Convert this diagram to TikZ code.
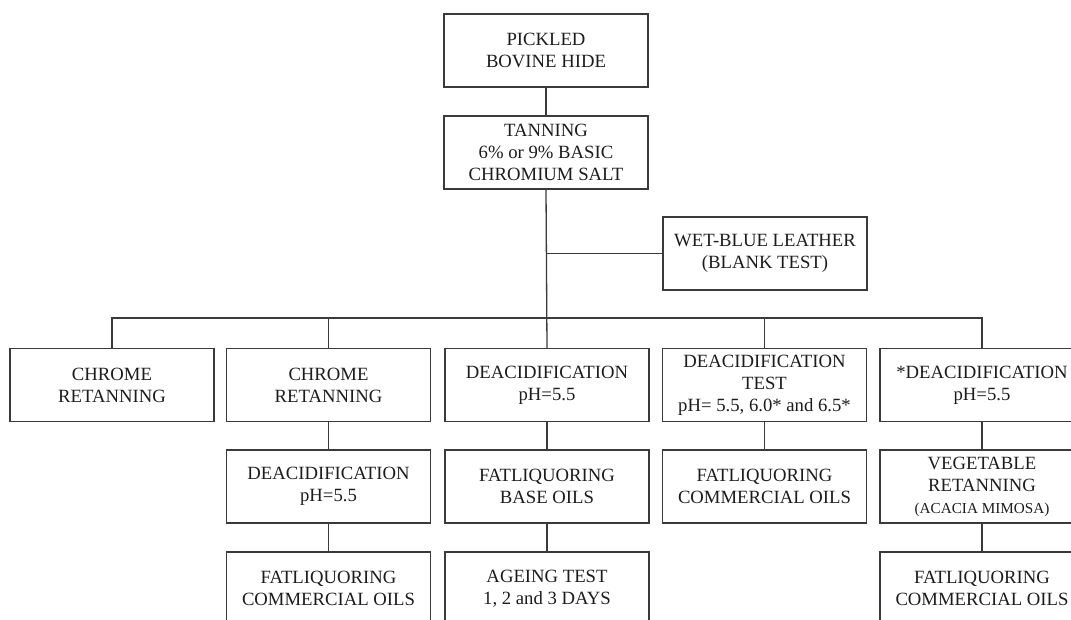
\documentclass[tikz,border=0pt]{standalone}
\usepackage{fontspec}
\setmainfont{Liberation Serif}
\begin{document}
\begin{tikzpicture}[x=1pt,y=-1pt,
  box/.style={draw=linec, line width=1.3pt, minimum width=204pt, minimum height=73pt,
    inner sep=0pt, align=center, text=textc,
    font=\fontsize{18.7}{22}\selectfont},
  conn/.style={draw=linec, line width=1.3pt}]
\definecolor{linec}{HTML}{3A3A3A}
\definecolor{textc}{HTML}{1C1C1C}
\useasboundingbox (0,0) rectangle (1071,620);
\node[box] (hide) at (546,50.5) {PICKLED\\BOVINE HIDE};
\node[box] (tan) at (546,152.5) {TANNING\\6\% or 9\% BASIC\\CHROMIUM SALT};
\node[box] (wb) at (765,253.5) {WET-BLUE LEATHER\\(BLANK TEST)};
\coordinate (bus) at (547,318);
% row 1
\node[box] (a1) at (112,385) {CHROME\\RETANNING};
\node[box] (b1) at (328.5,385) {CHROME\\RETANNING};
\node[box] (c1) at (547,385) {DEACIDIFICATION\\pH=5.5};
\node[box] (d1) at (764.5,385) {DEACIDIFICATION\\TEST\\pH= 5.5, 6.0* and 6.5*};
\node[box] (e1) at (982,385) {*DEACIDIFICATION\\pH=5.5};
% row 2
\node[box] (b2) at (328.5,486.5) {DEACIDIFICATION\\pH=5.5};
\node[box] (c2) at (547,486.5) {FATLIQUORING\\BASE OILS};
\node[box] (d2) at (764.5,486.5) {FATLIQUORING\\COMMERCIAL OILS};
\node[box] (e2) at (982,486.5) {VEGETABLE\\RETANNING\\{\fontsize{15.2}{18}\selectfont (ACACIA MIMOSA)}};
% row 3
\node[box] (b3) at (328.5,588.5) {FATLIQUORING\\COMMERCIAL OILS};
\node[box] (c3) at (547,588.5) {AGEING TEST\\1, 2 and 3 DAYS};
\node[box] (e3) at (982,588.5) {FATLIQUORING\\COMMERCIAL OILS};
% connectors
\draw[conn] (hide.south) -- (tan.south |- hide.south) -- (tan.north);
\draw[conn] (tan.south) -- (c1.north);
\draw[conn] (wb.west) -- (wb.west -| c1.north);
\draw[conn] (a1.north) |- (bus) -| (e1.north);
\draw[conn] (b1.north) -- (b1.north |- bus);
\draw[conn] (d1.north) -- (d1.north |- bus);
\draw[conn] (b1.south) -- (b2.north);
\draw[conn] (b2.south) -- (b3.north);
\draw[conn] (c1.south) -- (c2.north);
\draw[conn] (c2.south) -- (c3.north);
\draw[conn] (d1.south) -- (d2.north);
\draw[conn] (e1.south) -- (e2.north);
\draw[conn] (e2.south) -- (e3.north);
\end{tikzpicture}
\end{document}
